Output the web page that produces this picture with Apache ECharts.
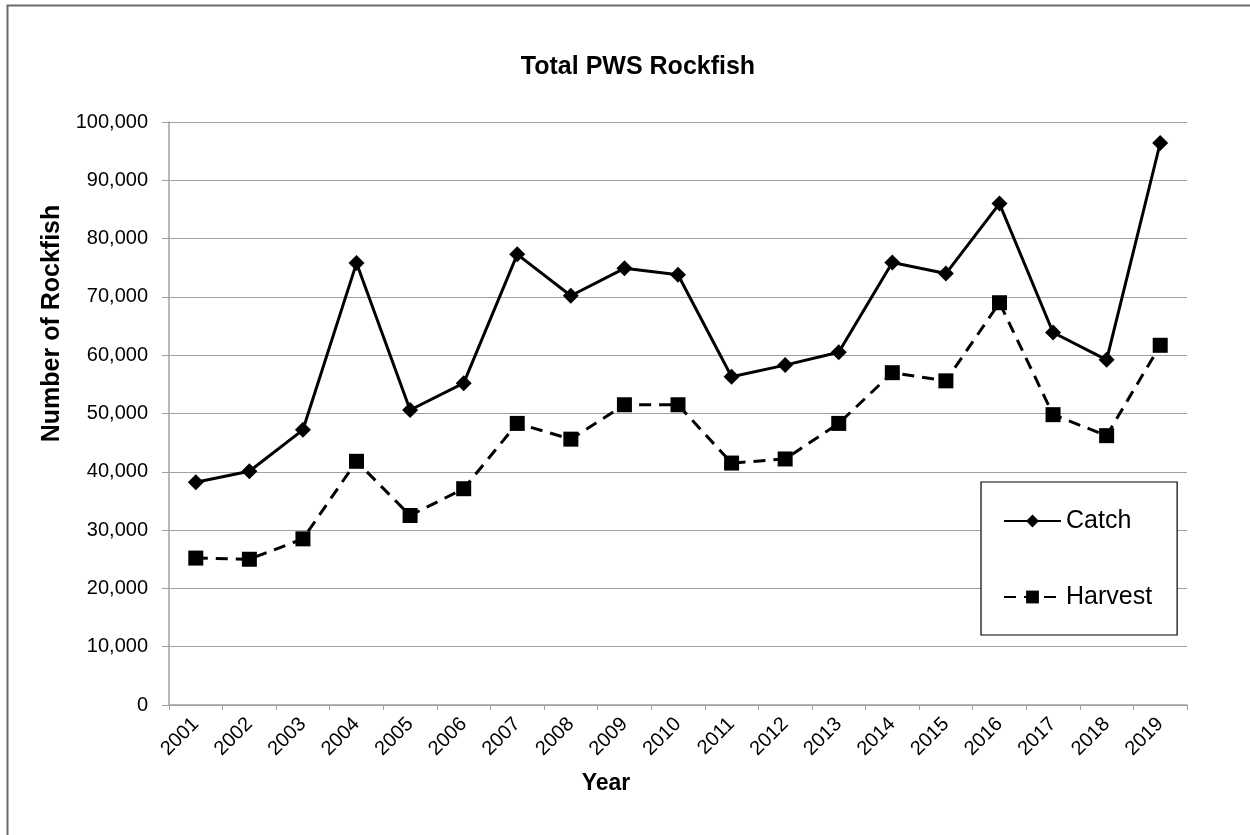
<!DOCTYPE html>
<html>
<head>
<meta charset="utf-8">
<title>Total PWS Rockfish</title>
<script src="https://cdn.jsdelivr.net/npm/echarts@6/dist/echarts.min.js"></script>
<style>
  html, body { margin: 0; padding: 0; background: #fff; }
  #chart { width: 1250px; height: 835px; }
</style>
</head>
<body>
<div id="chart"></div>
<script>
// Prince William Sound rockfish, catch vs. harvest by year
const years = ['2001','2002','2003','2004','2005','2006','2007','2008','2009','2010',
               '2011','2012','2013','2014','2015','2016','2017','2018','2019'];
const catchValues = [38200, 40100, 47200, 75800, 50600, 55200, 77300, 70200, 74900, 73800,
                     56300, 58300, 60500, 75900, 74000, 86000, 63900, 59200, 96400];
const harvestValues = [25200, 25000, 28500, 41800, 32500, 37100, 48300, 45600, 51500, 51500,
                       41500, 42200, 48300, 57000, 55600, 69000, 49800, 46200, 61700];

const FONT = '"Liberation Sans", Arial, sans-serif';

const chart = echarts.init(document.getElementById('chart'), null, { renderer: 'canvas' });

chart.setOption({
  backgroundColor: '#ffffff',
  animation: false,
  title: {
    text: 'Total PWS Rockfish',
    left: 633,
    top: 50,
    textAlign: 'center',
    textStyle: { fontFamily: FONT, fontSize: 25, fontWeight: 'bold', color: '#000' }
  },
  graphic: [{
    // outer chart frame
    type: 'rect',
    left: 5, top: 3,
    shape: { width: 1270, height: 860 },
    style: { fill: 'none', stroke: '#6a6a6a', lineWidth: 2 },
    silent: true
  }],
  grid: { left: 169, right: 63, top: 122, bottom: 130, containLabel: false },
  legend: {
    orient: 'vertical',
    left: 981,
    top: 482,
    padding: [26, 25, 25, 22],
    itemGap: 50,
    itemWidth: 57,
    itemHeight: 16,
    backgroundColor: '#fff',
    borderColor: '#000',
    borderWidth: 1.2,
    borderRadius: 0,
    textStyle: { fontFamily: FONT, fontSize: 25, lineHeight: 26, color: '#000' },
    data: ['Catch', 'Harvest']
  },
  xAxis: {
    type: 'category',
    data: years,
    boundaryGap: true,
    name: 'Year',
    nameLocation: 'middle',
    nameGap: 67,
    nameTextStyle: { fontFamily: FONT, fontSize: 23, fontWeight: 'bold', color: '#000', padding: [0, 144, 0, 0] },
    axisLine: { lineStyle: { color: '#a0a0a0', width: 1.5 } },
    axisTick: { show: true, length: 5, alignWithLabel: false, lineStyle: { color: '#a0a0a0' } },
    axisLabel: { rotate: 45, margin: 16, fontFamily: FONT, fontSize: 20, color: '#000', interval: 0 },
    splitLine: { show: false }
  },
  yAxis: {
    type: 'value',
    min: 0,
    max: 100000,
    interval: 10000,
    name: 'Number of Rockfish',
    nameLocation: 'middle',
    nameGap: 101,
    nameRotate: 90,
    nameTextStyle: { fontFamily: FONT, fontSize: 25, fontWeight: 'bold', color: '#000', padding: [0, 0, 0, 180] },
    axisLine: { show: true, lineStyle: { color: '#a0a0a0', width: 1.5 } },
    axisTick: { show: true, length: 7, lineStyle: { color: '#a0a0a0' } },
    axisLabel: {
      margin: 21, fontFamily: FONT, fontSize: 20, color: '#000',
      formatter: v => v.toLocaleString('en-US')
    },
    splitLine: { show: true, lineStyle: { color: '#a0a0a0', width: 1.2 } }
  },
  series: [
    {
      name: 'Catch',
      type: 'line',
      data: catchValues,
      symbol: 'diamond',
      symbolSize: 16,
      showAllSymbol: true,
      itemStyle: { color: '#000' },
      lineStyle: { color: '#000', width: 3, type: 'solid' },
      z: 3
    },
    {
      name: 'Harvest',
      type: 'line',
      data: harvestValues,
      symbol: 'rect',
      symbolSize: 15,
      showAllSymbol: true,
      itemStyle: { color: '#000' },
      lineStyle: { color: '#000', width: 3, type: [12, 8] },
      z: 2
    }
  ]
});
</script>
</body>
</html>
